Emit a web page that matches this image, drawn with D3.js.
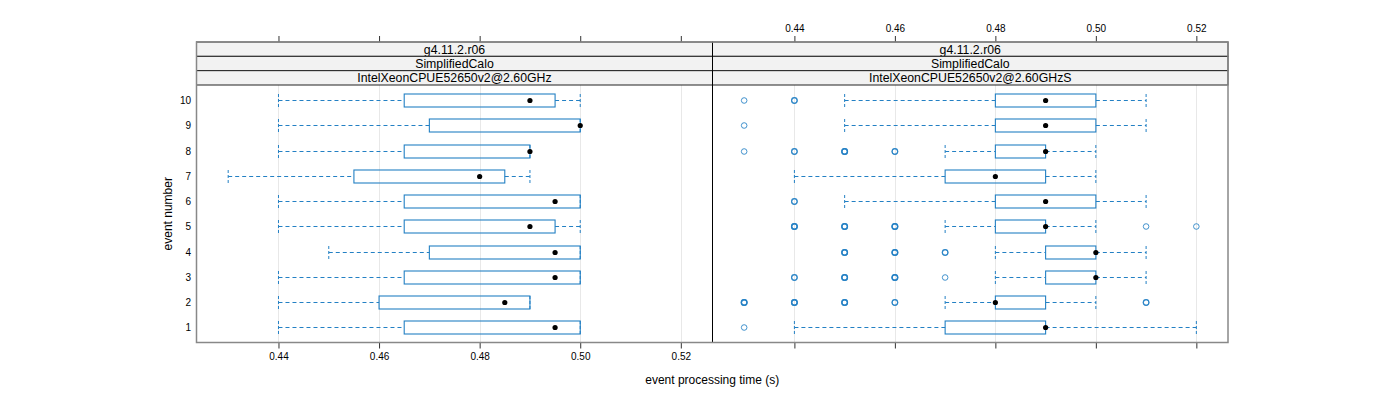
<!DOCTYPE html>
<html>
<head>
<meta charset="utf-8">
<script src="https://cdn.jsdelivr.net/npm/d3@7"></script>
<style>
  body { margin: 0; background: #fff; }
  svg { display: block; font-family: "Liberation Sans", Arial, sans-serif; }
</style>
</head>
<body>
<svg id="chart" width="1400" height="400"></svg>
<script>
// ---------------- data ----------------
const events = [1, 2, 3, 4, 5, 6, 7, 8, 9, 10];
const xTicks = [0.44, 0.46, 0.48, 0.50, 0.52];
const stripVersion = ["g4.11.2.r06", "g4.11.2.r06"];
const stripTest = ["SimplifiedCalo", "SimplifiedCalo"];
const stripCpu = ["IntelXeonCPUE52650v2@2.60GHz", "IntelXeonCPUE52650v2@2.60GHzS"];

// left panel (events 1..10)
const leftLow  = [0.44, 0.44, 0.44, 0.45, 0.44, 0.44, 0.43, 0.44, 0.44, 0.44];
const leftQ1   = [0.465, 0.46, 0.465, 0.47, 0.465, 0.465, 0.455, 0.465, 0.47, 0.465];
const leftMed  = [0.495, 0.485, 0.495, 0.495, 0.49, 0.495, 0.48, 0.49, 0.50, 0.49];
const leftQ3   = [0.50, 0.49, 0.50, 0.50, 0.495, 0.50, 0.485, 0.49, 0.50, 0.495];
const leftHigh = [0.50, 0.49, 0.50, 0.50, 0.50, 0.50, 0.49, 0.49, 0.50, 0.50];
const leftOutliers = [];

// right panel (events 1..10)
const rightLow  = [0.44, 0.47, 0.48, 0.48, 0.47, 0.45, 0.44, 0.47, 0.45, 0.45];
const rightQ1   = [0.47, 0.48, 0.49, 0.49, 0.48, 0.48, 0.47, 0.48, 0.48, 0.48];
const rightMed  = [0.49, 0.48, 0.50, 0.50, 0.49, 0.49, 0.48, 0.49, 0.49, 0.49];
const rightQ3   = [0.49, 0.49, 0.50, 0.50, 0.49, 0.50, 0.49, 0.49, 0.50, 0.50];
const rightHigh = [0.52, 0.50, 0.51, 0.51, 0.50, 0.51, 0.50, 0.50, 0.51, 0.51];
// outliers: [event, value, count]
const rightOutliers = [
  [1, 0.43, 1],
  [2, 0.43, 3], [2, 0.44, 3], [2, 0.45, 3], [2, 0.46, 2], [2, 0.51, 2],
  [3, 0.44, 2], [3, 0.45, 3], [3, 0.46, 3], [3, 0.47, 1],
  [4, 0.45, 3], [4, 0.46, 3], [4, 0.47, 2],
  [5, 0.44, 3], [5, 0.45, 3], [5, 0.46, 3], [5, 0.51, 1], [5, 0.52, 1],
  [6, 0.44, 2],
  [8, 0.43, 1], [8, 0.44, 2], [8, 0.45, 3], [8, 0.46, 2],
  [9, 0.43, 1],
  [10, 0.43, 1], [10, 0.44, 2]
];

// ---------------- layout ----------------
const svg = d3.select("#chart");
const blue = "#2380c4";
const panelTop = 85, panelBottom = 342.5, stripTop = 42;
const stripH = (panelTop - stripTop) / 3;
const panels = [
  { x0: 196.5, x1: 712.5, low: leftLow, q1: leftQ1, med: leftMed, q3: leftQ3, high: leftHigh, out: leftOutliers,
    strips: [stripVersion[0], stripTest[0], stripCpu[0]], bottomLabels: true, topLabels: false },
  { x0: 712.5, x1: 1228, low: rightLow, q1: rightQ1, med: rightMed, q3: rightQ3, high: rightHigh, out: rightOutliers,
    strips: [stripVersion[1], stripTest[1], stripCpu[1]], bottomLabels: false, topLabels: true }
];
const xmin = 0.43, xmax = 0.52, pad = 0.07 * (xmax - xmin);
const y = d3.scaleLinear().domain([0.4, 10.6]).range([panelBottom, panelTop]);
const boxH = 13;

panels.forEach(p => {
  const x = d3.scaleLinear().domain([xmin - pad, xmax + pad]).range([p.x0, p.x1]);
  const g = svg.append("g");

  // grid
  g.selectAll("line.grid").data(xTicks).join("line")
    .attr("x1", d => Math.round(x(d)) + 0.5).attr("x2", d => Math.round(x(d)) + 0.5)
    .attr("y1", panelTop).attr("y2", panelBottom)
    .attr("stroke", "#e8e8e8").attr("stroke-width", 1);

  // strips
  p.strips.forEach((s, i) => {
    g.append("rect").attr("x", p.x0).attr("y", stripTop + i * stripH)
      .attr("width", p.x1 - p.x0).attr("height", stripH)
      .attr("fill", "#f2f2f2").attr("stroke", "#222").attr("stroke-width", 1);
    g.append("text").attr("x", (p.x0 + p.x1) / 2).attr("y", stripTop + i * stripH + stripH / 2 + 4.4)
      .attr("text-anchor", "middle").attr("font-size", 12.3).attr("fill", "#000").text(s);
  });

  const rows = events.map((e, i) => ({ e, low: p.low[i], q1: p.q1[i], med: p.med[i], q3: p.q3[i], high: p.high[i] }));

  // whiskers
  const dash = "4,3";
  rows.forEach(r => {
    const cy = Math.round(y(r.e)) + 0.5;
    if (r.low < r.q1) {
      g.append("line").attr("x1", x(r.low)).attr("x2", x(r.q1)).attr("y1", cy).attr("y2", cy)
        .attr("stroke", blue).attr("stroke-dasharray", dash);
    }
    if (r.high > r.q3) {
      g.append("line").attr("x1", x(r.q3)).attr("x2", x(r.high)).attr("y1", cy).attr("y2", cy)
        .attr("stroke", blue).attr("stroke-dasharray", dash);
    }
    [r.low, r.high].forEach(v => {
      g.append("line").attr("x1", x(v)).attr("x2", x(v))
        .attr("y1", cy - boxH / 2).attr("y2", cy + boxH / 2)
        .attr("stroke", blue).attr("stroke-dasharray", "3,2");
    });
    g.append("rect").attr("x", x(r.q1)).attr("y", cy - boxH / 2)
      .attr("width", x(r.q3) - x(r.q1)).attr("height", boxH)
      .attr("fill", "none").attr("stroke", blue).attr("stroke-width", 1.1);
    g.append("circle").attr("cx", x(r.med)).attr("cy", cy).attr("r", 2.6).attr("fill", "#000");
  });

  // outliers (drawn once per count to thicken overplotted points)
  p.out.forEach(o => {
    for (let k = 0; k < o[2]; k++) {
      g.append("circle").attr("cx", x(o[1])).attr("cy", Math.round(y(o[0])) + 0.5).attr("r", 2.8)
        .attr("fill", "none").attr("stroke", blue).attr("stroke-opacity", 0.85)
        .attr("stroke-width", 1 + 0.2 * k);
    }
  });

  // bottom axis ticks
  const bAxis = d3.axisBottom(x).tickValues(xTicks).tickSize(6).tickPadding(4)
    .tickFormat(p.bottomLabels ? d3.format(".2f") : () => "");
  const bg = g.append("g").attr("transform", `translate(0,${panelBottom})`).call(bAxis);
  bg.select(".domain").remove();
  bg.selectAll(".tick line").attr("stroke", "#333");
  bg.selectAll(".tick text").attr("font-size", 10).attr("font-family", "Liberation Sans, Arial, sans-serif").attr("fill", "#000");

  // top axis ticks
  const tAxis = d3.axisTop(x).tickValues(xTicks).tickSize(6).tickPadding(4)
    .tickFormat(p.topLabels ? d3.format(".2f") : () => "");
  const tg = g.append("g").attr("transform", `translate(0,${stripTop})`).call(tAxis);
  tg.select(".domain").remove();
  tg.selectAll(".tick line").attr("stroke", "#333");
  tg.selectAll(".tick text").attr("font-size", 10).attr("font-family", "Liberation Sans, Arial, sans-serif").attr("fill", "#000");
});

// panel divider and frame
svg.append("line").attr("x1", 712.5).attr("x2", 712.5).attr("y1", stripTop).attr("y2", panelBottom)
  .attr("stroke", "#000").attr("stroke-width", 1);
svg.append("rect").attr("x", 196.5).attr("y", stripTop).attr("width", 1228 - 196.5).attr("height", panelBottom - stripTop)
  .attr("fill", "none").attr("stroke", "#888").attr("stroke-width", 1.5);

// y tick labels
svg.append("g").selectAll("text").data(events).join("text")
  .attr("x", 191).attr("y", d => Math.round(y(d)) + 0.5 + 3.5)
  .attr("text-anchor", "end").attr("font-size", 10).attr("fill", "#000").text(d => d);

// axis titles
svg.append("text").attr("x", (196.5 + 1228) / 2).attr("y", 384)
  .attr("text-anchor", "middle").attr("font-size", 12).attr("fill", "#000").text("event processing time (s)");
svg.append("text").attr("transform", `translate(172,${(panelTop + panelBottom) / 2}) rotate(-90)`)
  .attr("text-anchor", "middle").attr("font-size", 12).attr("fill", "#000").text("event number");
</script>
</body>
</html>
